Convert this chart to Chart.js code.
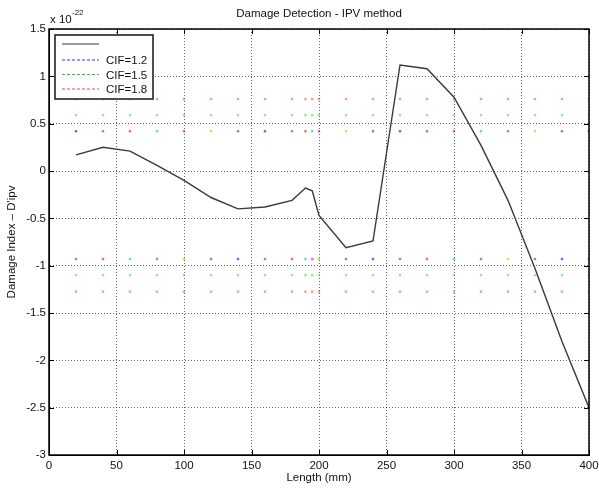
<!DOCTYPE html>
<html lang="en">
<head>
  <meta charset="UTF-8">
  <title>Damage Detection - IPV method</title>
  <script src="https://cdn.jsdelivr.net/npm/chart.js"></script>
  <style>
    html, body { margin: 0; padding: 0; background: #fff; }
    #wrap { width: 599px; height: 488px; }
  </style>
</head>
<body>
  <div id="wrap"><canvas id="ipvChart" width="599" height="488"></canvas></div>

  <script>
    // values (y in units of 1e-22)
    const lengths = [20, 40, 60, 80, 100, 120, 140, 160, 180, 190, 195, 200, 220, 240, 260, 280, 300, 320, 340, 360, 380, 400];
    const damageIndex = [0.17, 0.25, 0.21, 0.06, -0.10, -0.28, -0.40, -0.38, -0.31, -0.18, -0.21, -0.47, -0.81, -0.74, 1.12, 1.08, 0.78, 0.27, -0.31, -1.03, -1.80, -2.50];
    const cifNames = ["CIF=1.2", "CIF=1.5", "CIF=1.8"];
    const cifUpper = [0.42, 0.59, 0.76];
    const cifLower = [-0.93, -1.10, -1.275];
    const cifColors = ["#3333ff", "#22cc22", "#ff4444"];
    // matlab colour cycle that the CIF=1.2 dots run through
    const cycle = ["#0000ff", "#008000", "#ff0000", "#00bfbf", "#bf00bf", "#bfbf00", "#404040"];
    const xMin = 0, xMax = 400, xStep = 50;
    const yMin = -3, yMax = 1.5, yStep = 0.5;

    const FONT = "'Liberation Sans', Arial, sans-serif";

    function dotSet(level, colors) {
      return {
        data: lengths.map(x => ({ x: x, y: level })),
        showLine: false,
        pointStyle: 'rect',
        pointRadius: 1.7,
        pointBorderWidth: 0,
        pointBackgroundColor: colors,
        order: 2
      };
    }

    const datasets = [{
      label: '',
      data: lengths.map((x, i) => ({ x: x, y: damageIndex[i] })),
      showLine: true,
      borderColor: '#3a3a3a',
      borderWidth: 1.4,
      pointRadius: 0,
      order: 1
    }];
    // upper and lower threshold rows
    datasets.push(dotSet(cifUpper[0], lengths.map((x, i) => cycle[i % 7] + '99')));
    datasets.push(dotSet(cifUpper[1], '#33ee3399'));
    datasets.push(dotSet(cifUpper[2], '#ff555599'));
    datasets.push(dotSet(cifLower[0], lengths.map((x, i) => cycle[(i + 1) % 7] + '99')));
    datasets.push(dotSet(cifLower[1], '#33ee3399'));
    datasets.push(dotSet(cifLower[2], '#ff555599'));

    const matlabFrame = {
      id: 'matlabFrame',
      afterDraw(chart) {
        const ctx = chart.ctx;
        const a = chart.chartArea;
        const xs = chart.scales.x, ys = chart.scales.y;
        ctx.save();
        // box
        ctx.strokeStyle = '#000';
        ctx.lineWidth = 1.5;
        ctx.strokeRect(a.left, a.top, a.right - a.left, a.bottom - a.top);
        // inner ticks
        ctx.lineWidth = 1;
        ctx.beginPath();
        for (let v = xMin; v <= xMax; v += xStep) {
          const px = Math.round(xs.getPixelForValue(v)) + 0.5;
          ctx.moveTo(px, a.bottom); ctx.lineTo(px, a.bottom - 5);
          ctx.moveTo(px, a.top); ctx.lineTo(px, a.top + 5);
        }
        for (let v = yMin; v <= yMax + 1e-9; v += yStep) {
          const py = Math.round(ys.getPixelForValue(v)) + 0.5;
          ctx.moveTo(a.left, py); ctx.lineTo(a.left + 5, py);
          ctx.moveTo(a.right, py); ctx.lineTo(a.right - 5, py);
        }
        ctx.stroke();

        // title
        ctx.fillStyle = '#111';
        ctx.font = '11.5px ' + FONT;
        ctx.textAlign = 'center';
        ctx.textBaseline = 'middle';
        ctx.fillText('Damage Detection - IPV method', (a.left + a.right) / 2, 14);

        // exponent
        ctx.textAlign = 'left';
        ctx.textBaseline = 'alphabetic';
        ctx.font = '11.5px ' + FONT;
        ctx.fillText('x 10', 50, 23);
        ctx.font = '8px ' + FONT;
        ctx.fillText('-22', 72, 15);

        // legend
        const lx = 55, ly = 35, lw = 98, lh = 64;
        ctx.fillStyle = '#fff';
        ctx.fillRect(lx, ly, lw, lh);
        ctx.strokeStyle = '#222';
        ctx.lineWidth = 1.6;
        ctx.strokeRect(lx, ly, lw, lh);
        const rows = [44, 60, 74.5, 89];
        ctx.lineWidth = 1.2;
        ctx.strokeStyle = '#3a3a3a';
        ctx.beginPath(); ctx.moveTo(62, rows[0]); ctx.lineTo(99, rows[0]); ctx.stroke();
        ctx.font = '11.5px ' + FONT;
        ctx.textBaseline = 'middle';
        for (let i = 0; i < cifNames.length; i++) {
          ctx.strokeStyle = cifColors[i];
          ctx.setLineDash([3, 2]);
          ctx.beginPath(); ctx.moveTo(62, rows[i + 1]); ctx.lineTo(99, rows[i + 1]); ctx.stroke();
          ctx.setLineDash([]);
          ctx.fillStyle = '#111';
          ctx.fillText(cifNames[i], 106, rows[i + 1] + 1);
        }
        ctx.restore();
      }
    };

    const gridStyle = {
      color: 'rgba(0,0,0,0.6)',
      lineWidth: 1,
      drawTicks: false
    };

    new Chart(document.getElementById('ipvChart'), {
      type: 'scatter',
      data: { datasets: datasets },
      plugins: [matlabFrame],
      options: {
        responsive: false,
        animation: false,
        layout: { padding: { top: 29, right: 10, left: 0, bottom: 0 } },
        plugins: { legend: { display: false }, title: { display: false }, tooltip: { enabled: false } },
        scales: {
          x: {
            type: 'linear', min: xMin, max: xMax,
            ticks: { stepSize: xStep, padding: 4, color: '#111', font: { family: FONT, size: 11.5 }, maxRotation: 0 },
            grid: gridStyle,
            border: { display: true, color: '#000', width: 1, dash: [1, 2] },
            title: { display: true, text: 'Length (mm)', color: '#111', font: { family: FONT, size: 11.5 }, padding: { top: 0, bottom: 3 } },
            afterFit(scale) { scale.height = 33; scale.paddingLeft = 0; scale.paddingRight = 0; }
          },
          y: {
            type: 'linear', min: yMin, max: yMax,
            ticks: { stepSize: yStep, padding: 3, color: '#111', font: { family: FONT, size: 11.5 },
                     callback: v => String(Math.round(v * 10) / 10) },
            grid: gridStyle,
            border: { display: true, color: '#000', width: 1, dash: [1, 2] },
            title: { display: true, text: "Damage Index \u2013 D'ipv", color: '#111', font: { family: FONT, size: 11.5 }, padding: { top: 5, bottom: 0 } },
            afterFit(scale) { scale.width = 49; scale.paddingTop = 0; scale.paddingBottom = 0; }
          }
        }
      }
    });
  </script>
</body>
</html>
